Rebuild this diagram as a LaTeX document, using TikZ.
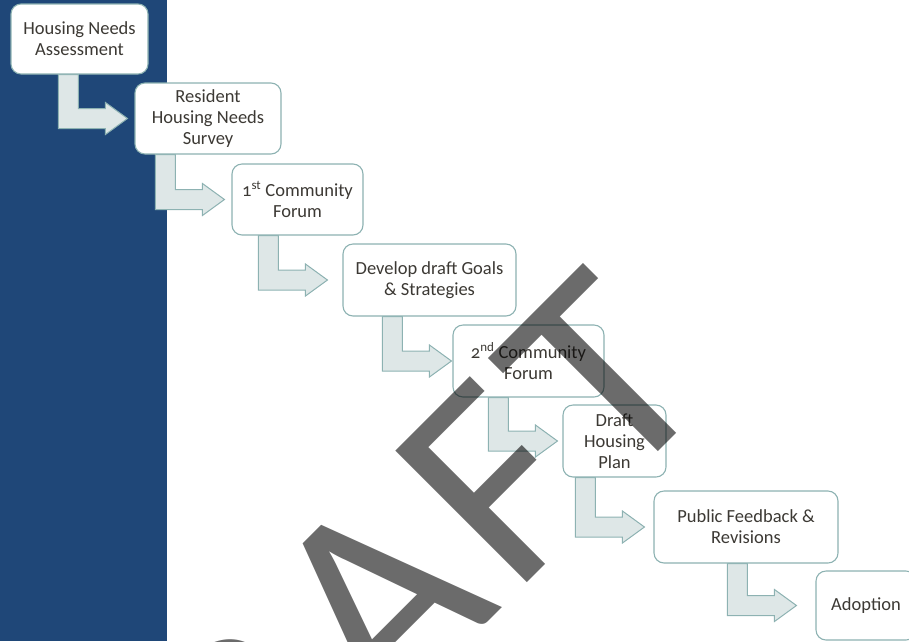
\documentclass[tikz,border=0pt]{standalone}
\usepackage{fontspec}
\setmainfont{Carlito}[Numbers=OldStyle]
\newfontfamily\wmfont{Carlito}[LetterSpace=5]
\usetikzlibrary{positioning,calc,backgrounds}
\definecolor{bandblue}{RGB}{31,71,120}
\definecolor{boxline}{RGB}{141,178,178}
\definecolor{arrowfill}{RGB}{222,231,231}
\definecolor{ink}{RGB}{60,57,52}
\tikzset{
  stage/.style={rectangle, rounded corners=10pt, draw=boxline, line width=1.1pt,
    fill=white, align=center, text=ink, inner sep=0pt, font=\fontsize{18.5}{21}\selectfont},
  bent/.style={fill=arrowfill, draw=boxline, line width=1pt, line join=miter},
  watermark/.style={rotate=45, anchor=base west, inner sep=0pt, text=black, text opacity=0.58,
    font=\wmfont\fontsize{290}{290}\selectfont},
}
\newcommand{\stepArrow}[3]{%
  \coordinate (tip) at ($(#2.west)+(-#3,0)$);
  \coordinate (sx) at ($(tip)+(-69,0)$);
  \draw[bent] (sx |- #1.south) -- ++(20,0) |- ($(tip)+(-22,-10)$) -- ++(0,-6) -- (tip)
    -- ($(tip)+(-22,16)$) -- ++(0,-6) -- ($(sx)+(0,10)$) -- cycle;
}

\begin{document}
\begin{tikzpicture}[x=1pt, y=-1pt]
  \useasboundingbox (0,0) rectangle (909,641);
  \clip (0,0) rectangle (909,641);
  \begin{scope}[on background layer]
    \fill[bandblue] (0,0) rectangle (167,641);
  \end{scope}

  \node[stage, minimum width=137pt, minimum height=70pt] (hna) at (79.5,39) {Housing Needs\\Assessment};
  \node[stage, minimum width=146pt, minimum height=71pt] (survey) at (208,118.5) {Resident\\Housing Needs\\Survey};
  \node[stage, minimum width=131pt, minimum height=71pt] (forum1) at (297.5,199.5) {1\textsuperscript{st} Community\\Forum};
  \node[stage, minimum width=173pt, minimum height=72pt] (goals) at (429.5,280) {Develop draft Goals\\\& Strategies};
  \node[stage, minimum width=151pt, minimum height=72pt] (forum2) at (528.5,361) {2\textsuperscript{nd} Community\\Forum};
  \node[stage, minimum width=103pt, minimum height=72pt] (plan) at (614.5,441) {Draft\\Housing\\Plan};
  \node[stage, minimum width=184pt, minimum height=72pt] (feedback) at (746,527) {Public Feedback \&\\Revisions};
  \node[stage, minimum width=100pt, minimum height=69pt] (adoption) at (866,605.5) {Adoption};

  \begin{scope}[on background layer]
    \stepArrow{hna}{survey}{7}
    \stepArrow{survey}{forum1}{7}
    \stepArrow{forum1}{goals}{15}
    \stepArrow{goals}{forum2}{1}
    \stepArrow{forum2}{plan}{5}
    \stepArrow{plan}{feedback}{9}
    \stepArrow{feedback}{adoption}{19}
  \end{scope}

  \node[watermark] (draft) at (126,984) {DRAFT};
\end{tikzpicture}
\end{document}
